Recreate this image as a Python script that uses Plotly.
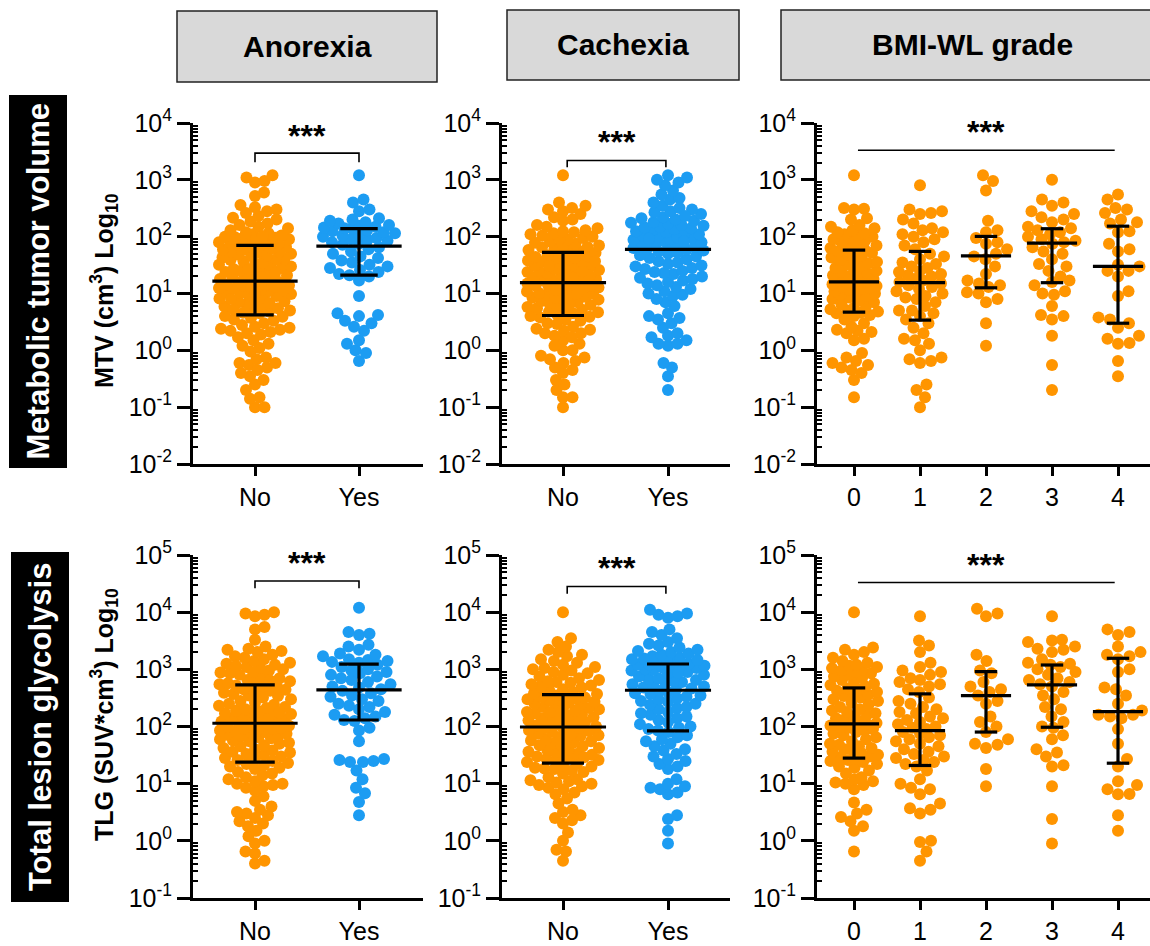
import numpy as np
import plotly.graph_objects as go

W, H = 1150, 946
ORANGE = "#FF9500"
BLUE = "#1C9CF2"
FONT = "Liberation Sans, Arial, sans-serif"

# ---------------- DATA ----------------
col_titles = ["Anorexia", "Cachexia", "BMI-WL grade"]
row_titles = ["Metabolic tumor volume", "Total lesion glycolysis"]
yes_no_labels = ["No", "Yes"]
grade_labels = ["0", "1", "2", "3", "4"]

# MTV (cm3)
mtv_anorexia_no = [0.1, 0.1, 0.14, 0.15, 0.2, 0.25, 0.3, 0.35, 0.4, 0.5, 0.55, 0.6, 0.6, 0.7, 0.75, 0.95, 1.1,
                   1.3, 1.5, 1.7, 1.9, 2.0, 2.2, 2.3, 2.5, 2.6, 2.8, 3.0, 3.3, 3.5, 3.7, 4.0, 2.1, 1.2, 0.45, 3.9,
                   2.4,
                   4.5, 4.8, 5.0, 5.3, 5.5, 5.9, 6.2, 6.6, 7.0, 7.3, 7.7, 8.2, 8.6, 9.0, 9.5, 10, 10.4, 11, 11.5,
                   12, 12.5, 13, 13.5, 14, 14.5, 15, 15.5, 16, 4.6, 5.2, 6.8, 8.0, 9.8, 11.2, 12.8, 14.2, 15.8, 10.2,
                   17, 18, 19, 20, 21, 22, 23, 24, 25, 26, 27, 28, 30, 31, 33, 35, 37, 39, 41, 43, 45, 48, 50, 52,
                   55, 58, 60, 63, 66, 69, 19.5, 22.5, 26.5, 32, 40, 47, 54, 62,
                   72, 75, 78, 80, 83, 86, 90, 93, 96, 100, 105, 110, 88, 98, 115, 120, 130, 140, 150, 160, 170,
                   185, 200, 215, 230, 260, 280, 300, 330, 360, 520, 600, 900, 950, 1100, 1200, 102]
mtv_anorexia_yes = [0.65, 0.9, 1.0, 1.3, 1.5, 2.2, 2.6, 3.0, 3.3, 4.0, 4.2, 4.5, 9.0, 17, 20,
                    21, 22, 24, 26, 28, 30, 32, 35, 38, 42, 45, 50, 55, 60, 65,
                    72, 75, 80, 85, 88, 90, 95, 100, 105, 110, 115, 120, 125, 130, 138,
                    140, 145, 150, 155, 160, 170, 180, 190, 200, 210, 280, 300, 400, 450, 1200]
mtv_cachexia_no = [0.1, 0.15, 0.15, 0.2, 0.25, 0.3, 0.4, 0.45, 0.5, 0.6, 0.65, 0.7, 0.75, 0.8, 1.0, 1.0, 1.3,
                   1.5, 1.8, 2.0, 2.0, 2.2, 2.4, 2.6, 3.0, 3.5, 3.8, 1.2, 1.7, 2.3, 2.9, 3.3, 3.9, 4.0,
                   4.3, 4.5, 4.8, 5.0, 5.2, 5.5, 5.8, 6.3, 6.7, 7.0, 7.4, 7.8, 8.4, 8.8, 9.2, 9.6, 10, 10.2, 10.8,
                   11.5, 12, 12.4, 12.8, 13.5, 14, 14.5, 15, 4.7, 6.0, 6.5, 8.0, 8.6, 9.9, 11.8, 13.8,
                   16, 16.5, 17, 18, 18.5, 19, 20, 21, 22, 23, 24, 25, 26, 27, 28, 29, 30, 31, 33, 35, 36, 38, 40,
                   41, 43, 45, 47, 50, 52, 17.5, 20.5, 24.5, 30.5, 37, 44,
                   55, 58, 60, 62, 65, 68, 70, 75, 78, 82, 88, 92, 95, 100, 105, 110, 115, 120, 125, 130, 140, 150,
                   160, 190, 200, 220, 250, 280, 300, 320, 350, 400, 1200, 66]
mtv_cachexia_yes = [0.2, 0.35, 0.5, 0.6, 1.2, 1.3, 1.3, 1.5, 1.7, 1.8, 2.0, 2.5, 3.0, 3.5, 3.7, 4.0, 4.5, 6.0,
                    7.0, 8.0, 9.0, 9.5, 10, 11, 12, 13, 14,
                    15, 16, 17, 18, 19, 20, 22, 23, 24, 25, 27, 28, 30, 31, 33, 35, 37, 40, 42, 45, 47, 50, 52, 55,
                    57, 59,
                    61, 63, 66, 70, 72, 75, 78, 80, 85, 88, 90, 95, 98, 100, 105, 110, 115, 120, 125, 130, 135, 140,
                    145, 148, 82, 92,
                    155, 160, 170, 175, 180, 190, 200, 210, 220, 250, 270, 280, 300, 320, 350, 400, 450, 480, 550,
                    650, 800, 900, 1000, 1100, 1200, 230]
mtv_grade0 = [0.15, 0.3, 0.4, 0.45, 0.5, 0.55, 0.6, 0.65, 0.75, 0.9, 1.5, 1.6, 2.0, 2.1, 2.2, 2.3, 2.6, 3.0, 3.5,
              4.0, 4.2, 4.5, 4.6,
              4.8, 5.0, 5.3, 5.6, 6.0, 6.5, 7.0, 7.5, 8.0, 8.5, 9.0, 9.5, 10, 10.5, 11, 11.5, 12, 12.5, 13, 13.5,
              14, 14.5, 15, 15.5,
              16.5, 17, 18, 19, 20, 21, 22, 23, 24, 25, 26, 28, 30, 32, 34, 36, 38, 40, 43, 46, 49, 52, 55, 57,
              60, 63, 66, 70, 75, 80, 85, 90, 95, 100, 105, 110, 115, 120, 130, 140, 150, 160, 200, 210, 300, 310,
              320, 1200]
mtv_grade1 = [0.1, 0.15, 0.2, 0.25, 0.6, 0.65, 0.7, 0.75, 1.0, 1.3, 1.5, 1.6, 2.0, 2.5, 3.0,
              3.5, 4.0, 4.5, 5.0, 5.0, 6.0, 7.0, 8.0, 9.0, 10, 11, 12, 13, 14, 15, 8.5,
              16, 17, 18, 20, 21, 22, 24, 25, 28, 30, 33, 35, 40, 45, 50,
              60, 70, 80, 90, 100, 110, 120, 130, 140, 170, 200, 250, 260, 280, 300, 800]
mtv_grade2 = [1.2, 3.0, 7.0, 8.0, 10, 10.5, 13, 14, 15, 17, 22, 30, 40, 45, 50, 60, 75, 80, 95, 120, 130, 190,
              650, 950, 1200]
mtv_grade3 = [0.2, 0.55, 1.8, 3.5, 4.0, 4.2, 6.0, 9.5, 10, 11, 14, 16, 17, 20, 25, 30, 33, 40, 50, 55, 65, 75,
              80, 85, 90, 100, 110, 120, 130, 140, 150, 180, 200, 220, 250, 280, 350, 400, 450, 1000]
mtv_grade4 = [0.35, 0.65, 1.3, 1.35, 1.6, 1.8, 2.5, 3.0, 3.5, 3.8, 9.0, 11, 20, 25, 25, 30, 32, 55, 60, 75, 120,
              125, 170, 180, 200, 260, 300, 320, 450, 550]

# TLG (SUV*cm3)
tlg_anorexia_no = [0.4, 0.45, 0.6, 0.65, 0.9, 1.0, 1.2, 1.5, 1.8, 2.0, 2.2, 2.5, 2.8, 3.0, 3.2, 3.5, 4.0, 5.0,
                   6.0, 7.5, 8.5, 9.0, 9.5, 10, 10, 11, 12, 13, 14, 15, 16, 18, 19, 20, 21, 22, 23,
                   25, 26, 27, 28, 30, 32, 33, 35, 36, 38, 40, 42, 45, 47, 50, 52, 55, 57, 60, 62, 65, 68, 70, 72,
                   75, 78, 80, 83, 86, 90, 93, 96, 100, 103, 106, 110, 112, 88,
                   118, 122, 126, 130, 135, 140, 145, 150, 155, 160, 165, 170, 180, 185, 190, 200, 210, 220, 230,
                   240, 250, 260, 280, 300, 320, 340, 350, 370, 390, 400, 420, 440, 460, 480, 500, 520, 175, 450,
                   550, 570, 600, 620, 650, 700, 750, 800, 850, 900, 950, 1000, 1050, 1100, 1200, 1250, 1300, 1400,
                   1500, 1600, 1700, 1800, 2000, 2100, 2200, 2300, 2500, 3300, 5000, 5500, 8500, 9000, 9500, 10000,
                   880, 1150, 640]
tlg_anorexia_yes = [2.8, 4.8, 6.8, 8.5, 12, 17, 24, 24, 25, 26, 27, 55, 85, 95, 125,
                    130, 140, 150, 160, 180, 200, 220, 230, 250, 280, 300, 330, 350, 380, 420,
                    450, 480, 500, 550, 600, 650, 700, 750, 800, 850, 900, 950, 1000, 1100, 1200,
                    1300, 1350, 1400, 1450, 1500, 1700, 1800, 1900, 2200, 2500, 2700, 4000, 4200, 4500, 12000]
tlg_cachexia_no = [0.45, 0.65, 0.7, 1.0, 1.4, 2.0, 2.3, 2.5, 2.8, 3.2, 3.5, 4.5, 6.5, 7.0, 8.0, 8.5, 9.0, 9.5,
                   10, 10.5, 11, 12, 13, 15, 16, 17, 18, 19, 20, 21, 22, 5.5, 11.5, 18.5,
                   24, 25, 26, 27, 28, 30, 31, 32, 33, 35, 36, 38, 40, 42, 45, 47, 50, 52, 55, 57, 60, 62, 65, 68,
                   70, 75, 78, 80, 83, 86, 90, 93, 96, 29, 48,
                   100, 105, 110, 115, 120, 125, 130, 135, 140, 145, 150, 155, 160, 170, 180, 190, 200, 210, 220,
                   230, 240, 250, 260, 270, 280, 290, 300, 310, 320, 330, 340, 350, 175, 205, 128,
                   370, 380, 400, 420, 450, 480, 500, 520, 550, 580, 600, 650, 700, 750, 800, 850, 900, 950, 1000,
                   1050, 1100, 1200, 1300, 1400, 1500, 1700, 1800, 2000, 2200, 2500, 3000, 3500, 10000, 620]
tlg_cachexia_yes = [0.9, 1.5, 2.4, 2.8, 6.5, 7.0, 8.0, 8.5, 9.0, 10, 12, 18, 20, 22, 25, 27, 30, 33, 38, 40, 45,
                    50, 55, 60, 65, 70, 80,
                    85, 90, 95, 100, 110, 120, 130, 140, 150, 160, 170, 180, 200, 210, 220, 240, 250, 270, 280, 300,
                    310, 330, 350, 370, 380, 400, 420,
                    440, 460, 480, 500, 520, 550, 580, 600, 620, 650, 680, 700, 750, 800, 850, 900, 950, 980, 1000,
                    1050, 1080, 1100, 1150, 1180, 1200, 1220, 870,
                    1260, 1300, 1350, 1400, 1450, 1500, 1600, 1700, 1800, 1900, 2000, 2200, 2400, 2600, 2800, 3000,
                    3500, 4000, 4500, 5000, 8000, 8500, 9000, 9500, 11000, 1550, 2100]
tlg_grade0 = [0.65, 1.5, 1.8, 2.2, 2.6, 3.0, 3.5, 4.7, 8.0, 9.5, 10, 10.5, 11, 12, 13, 15, 17, 19, 20, 22, 24,
              25, 26, 27,
              29, 30, 32, 34, 36, 38, 40, 42, 45, 48, 50, 55, 60, 65, 70, 75, 80, 85, 90, 95, 100, 104, 108, 110,
              115, 120, 125, 130, 140, 150, 160, 170, 180, 190, 200, 220, 240, 260, 280, 300, 320, 340, 360, 380,
              400, 420, 440, 460,
              500, 530, 560, 600, 650, 700, 750, 800, 850, 900, 950, 1000, 1050, 1100, 1150, 1200, 1300, 1400,
              1600, 1800, 2000, 2200, 2400, 10000]
tlg_grade1 = [0.45, 0.65, 0.95, 1.0, 3.0, 3.5, 3.7, 4.5, 6.5, 8.0, 8.5, 10, 12, 17, 20,
              22, 24, 26, 28, 30, 33, 36, 40, 45, 50, 55, 60, 65, 70, 75, 80,
              90, 95, 100, 110, 120, 130, 140, 150, 170, 180, 200, 220, 250, 280, 320,
              400, 450, 500, 550, 600, 650, 700, 800, 900, 1100, 1300, 2000, 2600, 3200, 8500, 950]
tlg_grade2 = [9, 18, 42, 48, 50, 60, 80, 100, 120, 150, 250, 280, 350, 400, 450, 500, 600, 850, 950, 1400, 1800,
              8500, 9500, 11500]
tlg_grade3 = [0.9, 2.4, 9.0, 20, 21, 30, 35, 40, 60, 70, 95, 100, 120, 150, 200, 220, 300, 350, 400, 500, 550,
              600, 700, 800, 900, 1000, 1100, 1200, 1250, 1300, 1500, 2000, 2200, 2300, 2500, 3000, 3200, 3300,
              8500, 650]
tlg_grade4 = [1.5, 2.8, 6.5, 6.6, 8.0, 9.5, 11, 20, 27, 50, 90, 150, 160, 160, 190, 350, 450, 480, 900, 1000,
              1500, 1800, 2000, 2500, 1700, 4000, 4500, 5000, 140, 250]

# Median and interquartile range
mtv_anorexia_med, mtv_anorexia_q1, mtv_anorexia_q3 = [16.5, 68], [4.2, 21], [70, 138]
mtv_cachexia_med, mtv_cachexia_q1, mtv_cachexia_q3 = [15.5, 60], [4.1, None], [53, None]
mtv_grade_med = [16, 15.5, 46, 77, 30]
mtv_grade_q1 = [4.7, 3.4, 12.6, 15.5, 3.0]
mtv_grade_q3 = [58, 55, 101, 138, 153]
tlg_anorexia_med, tlg_anorexia_q1, tlg_anorexia_q3 = [114, 437], [23.8, 130], [533, 1230]
tlg_cachexia_med, tlg_cachexia_q1, tlg_cachexia_q3 = [98, 431], [22.8, 84], [361, 1240]
tlg_grade_med = [111, 85, 347, 533, 182]
tlg_grade_q1 = [28, 20.8, 80, 97, 22.8]
tlg_grade_q3 = [473, 372, 912, 1190, 1560]

significance = "***"

# ---------------- LAYOUT HELPERS ----------------
def px_x(p):
    return p / W


def px_y(p):
    return 1 - p / H


def swarm(values, ppd, diam, cap, step=0.5):
    """Beeswarm layout: horizontal pixel offsets so markers do not overlap (where possible)."""
    y = np.log10(np.asarray(values, float)) * ppd
    order = np.argsort(y, kind="stable")
    k = np.arange(1, int(cap / step) + 1) * step
    cand = np.empty(2 * len(k) + 1)
    cand[0] = 0
    cand[1::2] = k
    cand[2::2] = -k
    xs = np.zeros(len(y))
    pxs, pys = [], []
    for i in order:
        x = 0.0
        if pxs:
            pa, ya = np.array(pxs), np.array(pys)
            near = np.abs(ya - y[i]) < diam
            if near.any():
                dx = cand[:, None] - pa[near][None, :]
                dy = y[i] - ya[near]
                d = np.sqrt(dx ** 2 + dy[None, :] ** 2).min(axis=1)
                chosen = None
                for f in (1.0, 0.85, 0.7, 0.55, 0.4, 0.25, 0.0):
                    ok = np.nonzero(d >= diam * f)[0]
                    if len(ok):
                        chosen = ok[0]
                        break
                x = cand[chosen]
        xs[i] = x
        pxs.append(x)
        pys.append(y[i])
    return xs


# panel geometry (pixels in the 1150x946 page)
col_px = [(193, 423, 255, 104), (502, 730, 563, 105), (817, 1150, 854, 66)]  # left, right, first cat, px/unit
row_px = [(123, 464, -2, 4), (555, 898, -1, 5)]  # top, bottom, log range

panels = [
    # row 0
    dict(groups=[mtv_anorexia_no, mtv_anorexia_yes], colors=[ORANGE, BLUE], labels=yes_no_labels,
         med=mtv_anorexia_med, q1=mtv_anorexia_q1, q3=mtv_anorexia_q3, caps=[36, 36], diam=[9.5, 10.5],
         mhw=0.41, chw=0.18, sig=dict(kind="bracket", x0=0, x1=1, y=3.47, yd=3.31, ty=3.78)),
    dict(groups=[mtv_cachexia_no, mtv_cachexia_yes], colors=[ORANGE, BLUE], labels=yes_no_labels,
         med=mtv_cachexia_med, q1=mtv_cachexia_q1, q3=mtv_cachexia_q3, caps=[36, 37], diam=[9.5, 9.5],
         mhw=0.41, chw=0.2, sig=dict(kind="bracket", x0=0.04, x1=0.98, y=3.34, yd=3.22, ty=3.67)),
    dict(groups=[mtv_grade0, mtv_grade1, mtv_grade2, mtv_grade3, mtv_grade4], colors=[ORANGE] * 5,
         labels=grade_labels, med=mtv_grade_med, q1=mtv_grade_q1, q3=mtv_grade_q3, caps=[24] * 5,
         diam=[10, 11, 11.5, 11.5, 11.5],
         mhw=0.38, chw=0.17, sig=dict(kind="line", x0=0.06, x1=3.95, y=3.52, ty=3.84)),
    # row 1
    dict(groups=[tlg_anorexia_no, tlg_anorexia_yes], colors=[ORANGE, BLUE], labels=yes_no_labels,
         med=tlg_anorexia_med, q1=tlg_anorexia_q1, q3=tlg_anorexia_q3, caps=[36, 36], diam=[9.5, 10.5],
         mhw=0.41, chw=0.19, sig=dict(kind="bracket", x0=0, x1=1, y=4.545, yd=4.42, ty=4.86)),
    dict(groups=[tlg_cachexia_no, tlg_cachexia_yes], colors=[ORANGE, BLUE], labels=yes_no_labels,
         med=tlg_cachexia_med, q1=tlg_cachexia_q1, q3=tlg_cachexia_q3, caps=[36, 37], diam=[9.5, 9.5],
         mhw=0.41, chw=0.2, sig=dict(kind="bracket", x0=0.04, x1=0.98, y=4.45, yd=4.32, ty=4.77)),
    dict(groups=[tlg_grade0, tlg_grade1, tlg_grade2, tlg_grade3, tlg_grade4], colors=[ORANGE] * 5,
         labels=grade_labels, med=tlg_grade_med, q1=tlg_grade_q1, q3=tlg_grade_q3, caps=[24] * 5,
         diam=[10, 11, 11.5, 11.5, 11.5],
         mhw=0.38, chw=0.17, sig=dict(kind="line", x0=0.06, x1=3.95, y=4.52, ty=4.83)),
]

fig = go.Figure()
layout = {}
annotations = []
shapes = []

for idx, p in enumerate(panels):
    r, c = divmod(idx, 3)
    n = idx + 1
    xa, ya = ("x" if n == 1 else f"x{n}"), ("y" if n == 1 else f"y{n}")
    left, right, cat0, ppu = col_px[c]
    top, bottom, lo, hi = row_px[r]
    ppd = (bottom - top) / (hi - lo)
    ncat = len(p["groups"])
    xr = [-(cat0 - left) / ppu, (right - cat0) / ppu]

    # points
    for g, (vals, col) in enumerate(zip(p["groups"], p["colors"])):
        offs = swarm(vals, ppd, p["diam"][g], p["caps"][g])
        fig.add_trace(go.Scatter(x=g + offs / ppu, y=vals, mode="markers", xaxis=xa, yaxis=ya,
                                 marker=dict(size=12, color=col, line=dict(width=0)),
                                 showlegend=False, hoverinfo="y"))
    # median + IQR
    ex, ey = [], []
    for g in range(ncat):
        m, a, b = p["med"][g], p["q1"][g], p["q3"][g]
        ex += [g - p["mhw"], g + p["mhw"], None]
        ey += [m, m, None]
        if a is not None and b is not None:
            ex += [g, g, None, g - p["chw"], g + p["chw"], None, g - p["chw"], g + p["chw"], None]
            ey += [a, b, None, a, a, None, b, b, None]
    fig.add_trace(go.Scatter(x=ex, y=ey, mode="lines", xaxis=xa, yaxis=ya,
                             line=dict(color="black", width=3.2), showlegend=False, hoverinfo="skip"))
    # significance
    s = p["sig"]
    if s["kind"] == "bracket":
        bx = [s["x0"], s["x0"], s["x1"], s["x1"]]
        by = [10 ** s["yd"], 10 ** s["y"], 10 ** s["y"], 10 ** s["yd"]]
    else:
        bx = [s["x0"], s["x1"]]
        by = [10 ** s["y"], 10 ** s["y"]]
    fig.add_trace(go.Scatter(x=bx, y=by, mode="lines", xaxis=xa, yaxis=ya,
                             line=dict(color="black", width=1.6), showlegend=False, hoverinfo="skip"))
    annotations.append(dict(x=(s["x0"] + s["x1"]) / 2, y=s["ty"], xref=xa, yref=ya, text=f"<b>{significance}</b>",
                            showarrow=False, font=dict(family=FONT, size=32, color="black"),
                            xanchor="center", yanchor="middle"))

    # axes
    minor_vals = [m * 10.0 ** e for e in range(lo, hi) for m in range(2, 10)]
    layout["xaxis" if n == 1 else f"xaxis{n}"] = dict(
        domain=[px_x(left), px_x(right)], anchor=ya, range=xr, tickmode="array",
        tickvals=list(range(ncat)), ticktext=p["labels"], ticks="outside", ticklen=9, tickwidth=3,
        tickcolor="black", showline=True, linewidth=3, linecolor="black", showgrid=False, zeroline=False,
        tickfont=dict(family=FONT, size=25, color="black"), fixedrange=True, automargin=False)
    layout["yaxis" if n == 1 else f"yaxis{n}"] = dict(
        domain=[px_y(bottom), px_y(top)], anchor=xa, type="log", range=[lo, hi], tickmode="array",
        tickvals=[10.0 ** e for e in range(lo, hi + 1)],
        ticktext=[f"10<sup>{e}</sup>" for e in range(lo, hi + 1)],
        ticks="outside", ticklen=13, tickwidth=3, tickcolor="black",
        minor=dict(tickmode="array", tickvals=minor_vals, ticks="inside", ticklen=5, tickwidth=1.5,
                   tickcolor="black", showgrid=False),
        showline=True, linewidth=3, linecolor="black", showgrid=False, zeroline=False,
        tickfont=dict(family=FONT, size=25, color="black"), fixedrange=True, automargin=False)

# column headers
header_boxes = [(177, 437, 11, 82, 307), (507, 739, 10, 80, 623), (781, 1152, 10, 80, 972)]
for (x0, x1, y0, y1, tx), t in zip(header_boxes, col_titles):
    shapes.append(dict(type="rect", xref="paper", yref="paper", x0=px_x(x0), x1=px_x(x1), y0=px_y(y1),
                       y1=px_y(y0), fillcolor="#D9D9D9", line=dict(color="#222222", width=1.5), layer="below"))
    annotations.append(dict(x=px_x(tx), y=px_y((y0 + y1) / 2), xref="paper", yref="paper", text=f"<b>{t}</b>",
                            showarrow=False, font=dict(family=FONT, size=30, color="black"),
                            xanchor="center", yanchor="middle"))

# row labels
row_boxes = [(9, 67, 95, 468), (11, 69, 552, 902)]
for (x0, x1, y0, y1), t in zip(row_boxes, row_titles):
    shapes.append(dict(type="rect", xref="paper", yref="paper", x0=px_x(x0), x1=px_x(x1), y0=px_y(y1),
                       y1=px_y(y0), fillcolor="black", line=dict(width=0), layer="below"))
    annotations.append(dict(x=px_x((x0 + x1) / 2), y=px_y((y0 + y1) / 2), xref="paper", yref="paper",
                            text=f"<b>{t}</b>", textangle=-90, showarrow=False,
                            font=dict(family=FONT, size=31, color="white"), xanchor="center", yanchor="middle"))

# y axis titles
ytitles = [("<b>MTV (cm<sup>3</sup>) Log<sub>10</sub></b>", 291), ("<b>TLG (SUV*cm<sup>3</sup>) Log<sub>10</sub></b>", 715)]
for t, yc in ytitles:
    annotations.append(dict(x=px_x(104), y=px_y(yc), xref="paper", yref="paper", text=t, textangle=-90,
                            showarrow=False, font=dict(family=FONT, size=25, color="black"),
                            xanchor="center", yanchor="middle"))

fig.update_layout(width=W, height=H, margin=dict(l=0, r=0, t=0, b=0, autoexpand=False), paper_bgcolor="white",
                  plot_bgcolor="white", showlegend=False, annotations=annotations, shapes=shapes,
                  font=dict(family=FONT, color="black"), **layout)

fig.write_html("out.html")
